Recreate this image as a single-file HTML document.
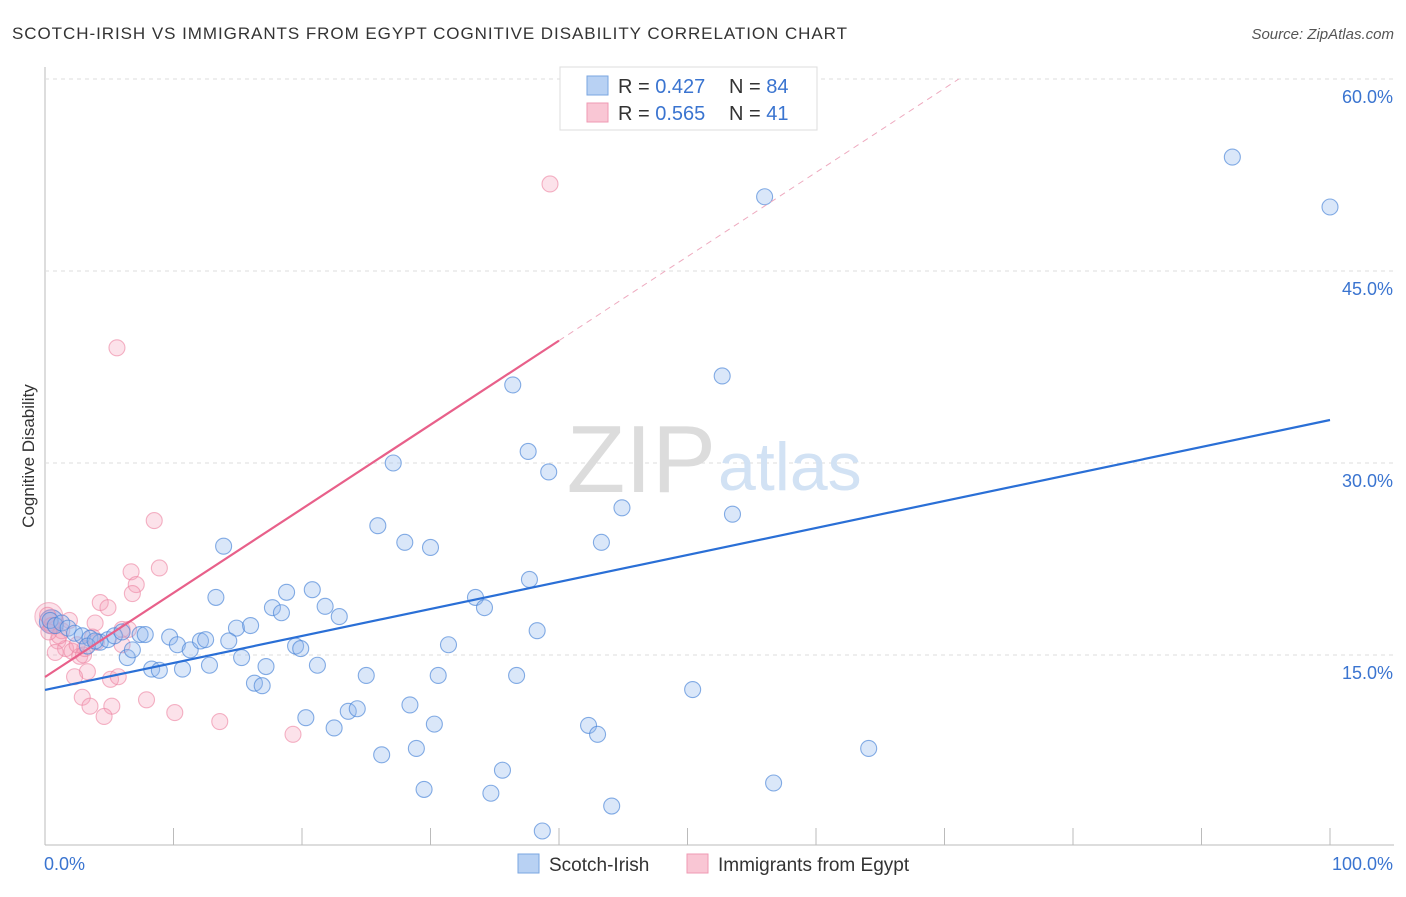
<!DOCTYPE html>
<html><head><meta charset="utf-8"><style>
body{margin:0;background:#fff;font-family:"Liberation Sans",sans-serif}
svg text{font-family:"Liberation Sans",sans-serif}
</style></head><body>
<svg id="chart" width="1406" height="892">
<text x="12" y="39" font-size="17" fill="#333" textLength="835" lengthAdjust="spacing">SCOTCH-IRISH VS IMMIGRANTS FROM EGYPT COGNITIVE DISABILITY CORRELATION CHART</text>
<text x="1394" y="39" font-size="15" fill="#555" text-anchor="end" font-style="italic">Source: ZipAtlas.com</text>
<text x="34" y="456" font-size="17" fill="#333" text-anchor="middle" transform="rotate(-90 34 456)">Cognitive Disability</text>
<g id="grid"></g>
<text x="716" y="492" font-size="96" fill="#dcdcdc" text-anchor="end" font-family="Liberation Serif">ZIP</text>
<text x="718" y="490" font-size="68" fill="#d2e2f4">atlas</text>
<g id="marks"></g>
<g>
<rect x="560" y="67" width="257" height="63" fill="#fff" stroke="#ddd"/>
<rect x="587" y="76" width="21" height="19" fill="#b8d1f3" stroke="#7aa6e0"/>
<rect x="587" y="103" width="21" height="19" fill="#f9c6d4" stroke="#ef9ab3"/>
<text x="618" y="93" font-size="20" fill="#333">R = <tspan fill="#3a74d0">0.427</tspan></text>
<text x="729" y="93" font-size="20" fill="#333">N = <tspan fill="#3a74d0">84</tspan></text>
<text x="618" y="120" font-size="20" fill="#333">R = <tspan fill="#3a74d0">0.565</tspan></text>
<text x="729" y="120" font-size="20" fill="#333">N = <tspan fill="#3a74d0"> 41</tspan></text>
</g>
<g>
<rect x="518" y="854" width="21" height="19" fill="#b8d1f3" stroke="#7aa6e0"/>
<text x="549" y="871" font-size="19" fill="#333">Scotch-Irish</text>
<rect x="687" y="854" width="21" height="19" fill="#f9c6d4" stroke="#ef9ab3"/>
<text x="718" y="871" font-size="19" fill="#333">Immigrants from Egypt</text>
</g>
</svg>
<script>
const yTicks=[15,30,45,60];
const yTickLabels=["15.0%","30.0%","45.0%","60.0%"];
const xTickLabels=["0.0%","100.0%"];
const blueX=[92.4,100,56.0,36.4,52.7,37.6,39.2,27.1,44.9,53.5,25.9,28.0,30.0,43.3,13.9,37.7,33.5,34.2,13.3,18.8,20.8,17.7,18.4,21.8,22.9,38.3,31.4,14.9,16.0,14.3,19.5,19.9,17.2,21.2,30.6,36.7,25.0,12.8,10.7,8.3,8.9,6.4,6.8,7.4,7.8,9.7,10.3,11.3,12.1,12.5,15.3,16.3,16.9,50.4,28.4,20.3,23.6,24.3,22.5,30.3,42.3,43.0,28.9,26.2,64.1,35.6,56.7,29.5,34.7,44.1,38.7,0.4,0.8,1.3,1.8,2.3,2.9,3.5,4.3,4.9,5.4,6.0,3.3,3.9];
const blueY=[53.9,50.0,50.8,36.1,36.8,30.9,29.3,30.0,26.5,26.0,25.1,23.8,23.4,23.8,23.5,20.9,19.5,18.7,19.5,19.9,20.1,18.7,18.3,18.8,18.0,16.9,15.8,17.1,17.3,16.1,15.7,15.5,14.1,14.2,13.4,13.4,13.4,14.2,13.9,13.9,13.8,14.8,15.4,16.6,16.6,16.4,15.8,15.4,16.1,16.2,14.8,12.8,12.6,12.3,11.1,10.1,10.6,10.8,9.3,9.6,9.5,8.8,7.7,7.2,7.7,6.0,5.0,4.5,4.2,3.2,1.25,17.7,17.3,17.5,17.1,16.7,16.5,16.3,16.0,16.2,16.5,16.8,15.7,16.1];
const pinkX=[39.3,5.6,8.5,8.9,6.7,7.1,6.8,4.3,4.9,3.9,6.0,3.7,6.0,5.1,5.7,3.3,2.3,2.9,3.5,5.2,4.6,7.9,10.1,13.6,19.3,0.2,0.5,1.0,1.6,2.1,2.7,3.1,1.3,1.9,0.8,2.5,4.0,6.5,1.1,0.3,3.0];
const pinkY=[51.8,39.0,25.5,21.8,21.5,20.5,19.8,19.1,18.7,17.5,17.0,16.4,15.8,13.1,13.3,13.7,13.3,11.7,11.0,11.0,10.2,11.5,10.5,9.8,8.8,18.1,17.3,16.1,15.5,15.3,14.9,15.5,16.9,17.7,15.2,15.8,16.0,17.0,16.5,16.8,15.0];
const bigBlue=[0.5,17.6];
const bigPink=[0.3,18.0];
const blueTrend=[12.27,33.36];
const pinkTrend=[13.28,0.657];
const X=v=>45+v*12.85, Y=v=>847-v*12.8;
const NS="http://www.w3.org/2000/svg";
const grid=document.getElementById('grid'), marks=document.getElementById('marks');
function mk(p,tag,a){const e=document.createElementNS(NS,tag);for(const k in a)e.setAttribute(k,a[k]);p.appendChild(e);return e;}
let e=mk(grid,'line',{x1:45,y1:67,x2:45,y2:845,stroke:'#bbb'});


e=mk(grid,'line',{x1:45,y1:845,x2:1394,y2:845,stroke:'#bbb'});


yTicks.forEach((t,i)=>{
 let g=mk(grid,'line',{x1:45,y1:Y(t),x2:1394,y2:Y(t),stroke:'#ddd','stroke-dasharray':'4 4'});
 
 
 let l=mk(grid,'text',{x:1393,y:Y(t)+24,'font-size':18,fill:'#3a74d0','text-anchor':'end'});l.textContent=yTickLabels[i];
 
 
});
for(let i=0;i<=10;i++){let t=mk(grid,'line',{x1:X(i*10),y1:828,x2:X(i*10),y2:845,stroke:'#bbb'});
 
 }
[[X(0)-1,'start'],[1393,'end']].forEach((p,i)=>{let l=mk(grid,'text',{x:p[0],y:870,'font-size':18,fill:'#3a74d0','text-anchor':p[1]});l.textContent=xTickLabels[i];
 
 });
function dot(x,y,r,c,s,n){const d=mk(marks,'circle',{cx:X(x),cy:Y(y),r:r,fill:c,stroke:s,'stroke-width':1.1});
 
 }
dot(bigPink[0],bigPink[1],14,'rgba(244,160,184,0.3)','rgba(236,130,160,0.5)','egypt-point-large');
dot(bigBlue[0],bigBlue[1],12,'rgba(110,150,230,0.4)','rgba(70,120,210,0.6)','scotch-irish-point-large');
pinkX.forEach((x,i)=>dot(x,pinkY[i],8,'rgba(244,160,184,0.3)','rgba(236,130,160,0.6)','egypt-point'));
blueX.forEach((x,i)=>dot(x,blueY[i],8,'rgba(150,185,238,0.35)','rgba(70,130,215,0.65)','scotch-irish-point'));
e=mk(marks,'line',{x1:X(0),y1:Y(blueTrend[0]),x2:X(100),y2:Y(blueTrend[1]),stroke:'#2a6fd6','stroke-width':2.2});


e=mk(marks,'line',{x1:X(0),y1:Y(pinkTrend[0]),x2:X(40),y2:Y(pinkTrend[0]+pinkTrend[1]*40),stroke:'#e8608a','stroke-width':2.2});


const xe=(60-pinkTrend[0])/pinkTrend[1];
e=mk(marks,'line',{x1:X(40),y1:Y(pinkTrend[0]+pinkTrend[1]*40),x2:X(xe),y2:Y(60),stroke:'#eeaabf','stroke-width':1,'stroke-dasharray':'6 5'});


</script>
</body></html>
